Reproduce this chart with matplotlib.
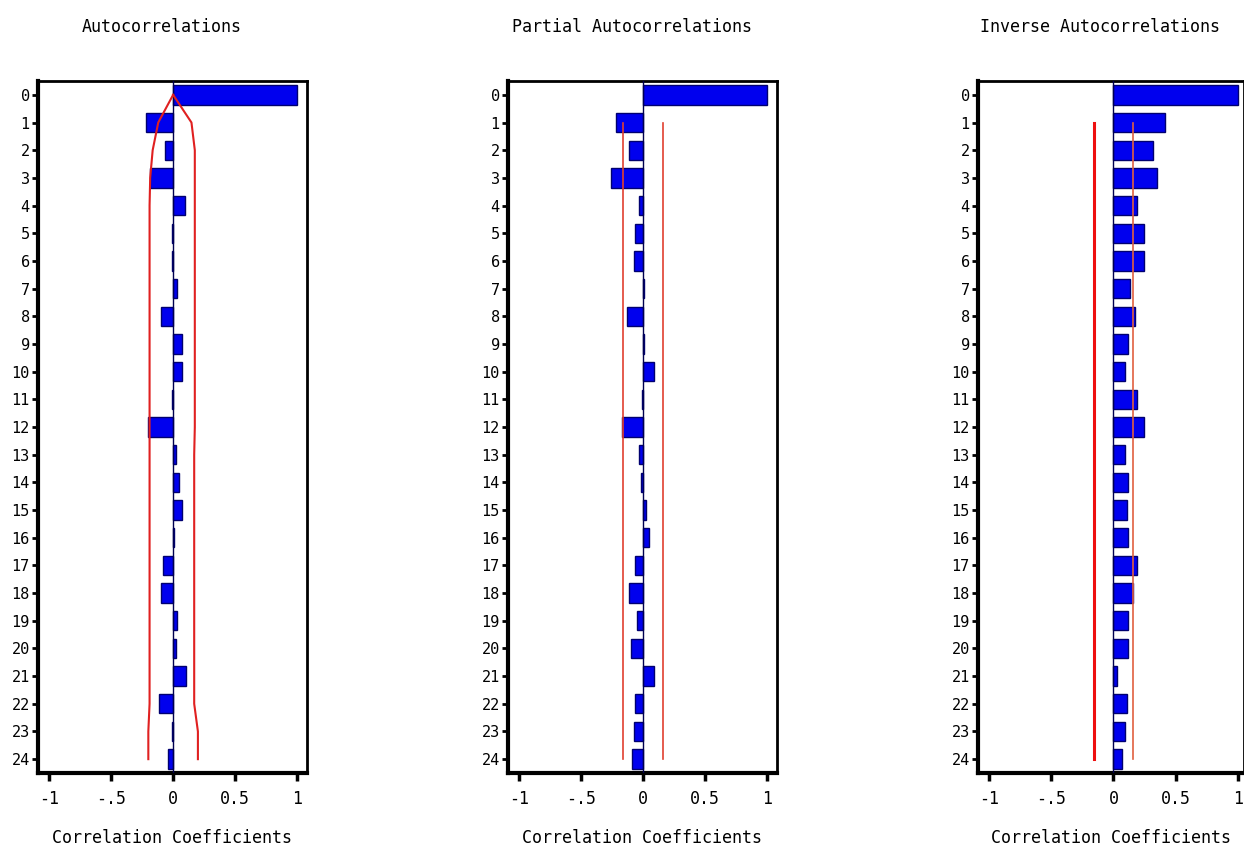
import matplotlib.pyplot as plt
import numpy as np

lags = list(range(25))

acf = [1.0, -0.215, -0.067, -0.19, 0.094, -0.013, -0.013, 0.03, -0.094, 0.075,
       0.075, -0.013, -0.2, 0.027, 0.05, 0.075, 0.005, -0.08, -0.094, 0.03,
       0.02, 0.1, -0.11, -0.013, -0.045]
acf_upper = [0.0, 0.148, 0.175, 0.175, 0.175, 0.175, 0.175, 0.175, 0.175, 0.175,
             0.175, 0.175, 0.175, 0.17, 0.17, 0.17, 0.17, 0.17, 0.17, 0.17,
             0.17, 0.17, 0.17, 0.2, 0.2]
acf_lower = [0.0, -0.12, -0.165, -0.185, -0.19, -0.19, -0.19, -0.19, -0.19, -0.19,
             -0.19, -0.19, -0.19, -0.19, -0.19, -0.19, -0.19, -0.19, -0.19, -0.19,
             -0.19, -0.19, -0.19, -0.2, -0.2]

pacf = [1.0, -0.218, -0.116, -0.258, -0.035, -0.062, -0.075, 0.01, -0.13, 0.01,
        0.086, -0.008, -0.17, -0.035, -0.016, 0.027, 0.046, -0.062, -0.116, -0.048,
        -0.1, 0.086, -0.062, -0.075, -0.09]
pacf_bound = 0.163

iacf = [1.0, 0.417, 0.32, 0.347, 0.188, 0.247, 0.247, 0.132, 0.175, 0.118,
        0.091, 0.188, 0.247, 0.091, 0.118, 0.108, 0.118, 0.188, 0.153, 0.118,
        0.118, 0.032, 0.108, 0.091, 0.065]
iacf_bound = 0.16

titles = ['Autocorrelations', 'Partial Autocorrelations', 'Inverse Autocorrelations']
xticks = [-1, -0.5, 0, 0.5, 1]
xticklabels = ['-1', '-.5', '0', '0.5', '1']

plt.rcParams['font.family'] = ['DejaVu Sans Mono']

fig = plt.figure(figsize=(12.44, 8.58), dpi=100)
W, H = 1244, 858
lefts = [38, 508, 978]
widths = [269, 269, 266]
top, bottom = 81, 773

axes = []
for i in range(3):
    ax = fig.add_axes([lefts[i] / W, 1 - bottom / H, widths[i] / W, (bottom - top) / H])
    axes.append(ax)

series = [acf, pacf, iacf]
for ax, vals, title, left, width in zip(axes, series, titles, lefts, widths):
    ax.barh(lags, vals, height=0.7, color='#0000ee', edgecolor='#000070', linewidth=1, zorder=2)
    ax.axvline(0, color='#000050', lw=1, zorder=3)
    ax.set_ylim(24.5, -0.5)
    ax.set_yticks(lags)
    ax.set_yticklabels([str(l) for l in lags], fontsize=11)
    ax.set_xticks(xticks)
    ax.set_xticklabels(xticklabels, fontsize=12)
    ax.tick_params(axis='x', direction='out', length=6, width=2.5, pad=6)
    ax.tick_params(axis='y', direction='out', length=4, width=2, pad=2)
    for side in ['left', 'bottom']:
        ax.spines[side].set_linewidth(3)
    for side in ['top', 'right']:
        ax.spines[side].set_linewidth(2)
    cx = (left + width / 2) / W
    fig.text(cx - 11 / W, 1 - 27 / H, title, ha='center', va='center', fontsize=12)
    fig.text(cx, 1 - 838 / H, 'Correlation Coefficients', ha='center', va='center', fontsize=12)

axes[0].set_xlim(-1.09, 1.08)
axes[1].set_xlim(-1.09, 1.08)
axes[2].set_xlim(-1.09, 1.05)

axes[0].plot(acf_upper, lags, color='#e02020', lw=1.5, zorder=4)
axes[0].plot(acf_lower, lags, color='#e02020', lw=1.5, zorder=4)

axes[1].plot([pacf_bound] * 24, lags[1:], color='#e04030', lw=1.2, zorder=4)
axes[1].plot([-pacf_bound] * 24, lags[1:], color='#e04030', lw=1.2, zorder=4)

axes[2].plot([iacf_bound] * 24, lags[1:], color='#e06040', lw=1.2, zorder=4)
axes[2].plot([-iacf_bound] * 24, lags[1:], color='#ee1010', lw=2.2, zorder=4)

fig.savefig('out.png', dpi=100)
